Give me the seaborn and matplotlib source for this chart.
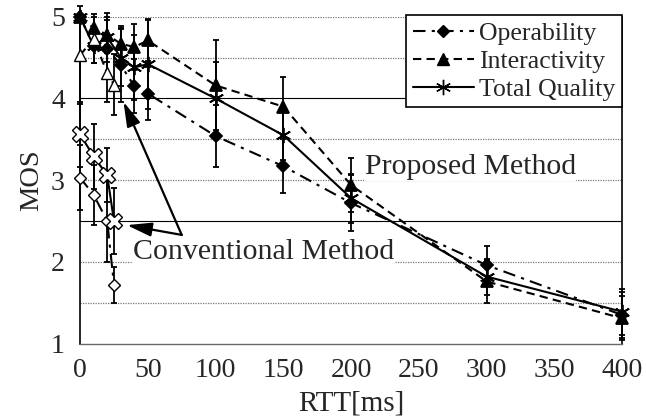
import numpy as np
import pandas as pd
import matplotlib
matplotlib.use("Agg")
import matplotlib.pyplot as plt
import seaborn as sns

# ---- data ----
rtt_proposed = [0, 10, 20, 30, 40, 50, 100, 150, 200, 300, 400]
op_proposed = [5.0, 4.64, 4.61, 4.41, 4.15, 4.06, 3.54, 3.17, 2.72, 1.96, 1.35]
op_proposed_err = [0.0, 0.2, 0.35, 0.45, 0.33, 0.32, 0.38, 0.33, 0.34, 0.24, 0.28]
int_proposed = [5.0, 4.86, 4.78, 4.67, 4.63, 4.71, 4.16, 3.90, 2.94, 1.76, 1.31]
int_proposed_err = [0.0, 0.14, 0.22, 0.22, 0.28, 0.25, 0.55, 0.36, 0.33, 0.26, 0.27]
tot_proposed = [5.0, 4.64, 4.75, 4.50, 4.38, 4.42, 4.00, 3.55, 2.78, 1.82, 1.39]
tot_proposed_err = [0.0, 0.2, 0.3, 0.35, 0.4, 0.55, 0.45, 0.3, 0.3, 0.22, 0.28]

rtt_conventional = [0, 10, 20, 25]
op_conventional = [3.03, 2.82, 2.50, 1.72]
op_conventional_err = [0.4, 0.37, 0.5, 0.22]
int_conventional = [4.53, 4.73, 4.31, 4.17]
int_conventional_err = [0.6, 0.3, 0.35, 0.37]
tot_conventional = [3.56, 3.29, 3.06, 2.50]
tot_conventional_err = [0.4, 0.4, 0.33, 0.4]

legend_labels = ["Operability", "Interactivity", "Total Quality"]
x_ticks = [0, 50, 100, 150, 200, 250, 300, 350, 400]
y_ticks = [1, 2, 3, 4, 5]

# ---- style ----
sns.set_style("white")
plt.rcParams['font.family'] = ['Liberation Serif', 'DejaVu Serif']

fig = plt.figure(figsize=(6.46, 4.19), dpi=100)
ax = fig.add_axes([0.124, 0.180, 0.839, 0.780])

# grid lines
for g in np.arange(1.5, 5.01, 0.5):
    if g in (4.0, 2.5):
        ax.axhline(g, color='black', lw=0.8, ls='-', zorder=0)
    else:
        ax.axhline(g, color='#777777', lw=0.9, ls=(0, (1, 1)), zorder=0)

asterisk = (6, 2, 0)
series = [
    (rtt_proposed, op_proposed, op_proposed_err, (0, (6, 3, 1.5, 3)), 'D', 6.5, 'black', legend_labels[0]),
    (rtt_proposed, int_proposed, int_proposed_err, (0, (4, 2.5)), '^', 8.5, 'black', legend_labels[1]),
    (rtt_proposed, tot_proposed, tot_proposed_err, '-', asterisk, 11, 'black', legend_labels[2]),
    (rtt_conventional, op_conventional, op_conventional_err, (0, (6, 3, 1.5, 3)), 'D', 6, 'white', None),
    (rtt_conventional, int_conventional, int_conventional_err, (0, (4, 2.5)), '^', 9, 'white', None),
    (rtt_conventional, tot_conventional, tot_conventional_err, '-', 'X', 11, 'white', None),
]

for x, y, e, ls, mk, ms, fc, lab in series:
    ax.errorbar(x, y, yerr=e, fmt='none', ecolor='black', elinewidth=1.3,
                capsize=2.5, capthick=1.3, zorder=2, clip_on=False)
    df = pd.DataFrame({"RTT": x, "MOS": y})
    sns.lineplot(data=df, x="RTT", y="MOS", ax=ax, color='black', lw=1.5,
                 linestyle=ls, marker=mk, markersize=ms, markerfacecolor=fc,
                 markeredgecolor='black', markeredgewidth=1.0 if fc == 'white' else 1.3,
                 label=lab, legend=False, zorder=3, clip_on=False)

ax.set_xlim(0, 400)
ax.set_ylim(1, 5)
ax.set_xticks(x_ticks)
ax.set_yticks(y_ticks)
ax.tick_params(axis='x', direction='inout', length=7, width=1, labelsize=20, pad=7)
ax.tick_params(axis='y', direction='out', length=5, width=1, labelsize=20, pad=6)
ax.set_xlabel("RTT[ms]", fontsize=21, labelpad=5)
ax.set_ylabel("MOS", fontsize=20.5, labelpad=5)

for s in ['left', 'right']:
    ax.spines[s].set_visible(True)
    ax.spines[s].set_color('black')
    ax.spines[s].set_linewidth(1.2)
ax.spines['top'].set_visible(False)
ax.spines['bottom'].set_color('#666666')
ax.spines['bottom'].set_linestyle((0, (1, 1)))
ax.spines['bottom'].set_linewidth(1.0)

# legend
handles = [
    plt.Line2D([], [], color='black', lw=1.5, ls=(0, (6, 3, 1.5, 3)), marker='D', ms=6.5),
    plt.Line2D([], [], color='black', lw=1.5, ls=(0, (4, 2.5)), marker='^', ms=8.5),
    plt.Line2D([], [], color='black', lw=1.5, ls='-', marker=asterisk, ms=11),
]
leg = ax.legend(handles, legend_labels, loc='upper right', bbox_to_anchor=(1.0, 1.005),
                fontsize=18.5, frameon=True, fancybox=False, edgecolor='black',
                framealpha=1, handlelength=2.4, handletextpad=0.2, labelspacing=0.2,
                borderpad=0.25, borderaxespad=0.0)
leg.get_frame().set_linewidth(1.2)

# annotations
ax.text(288, 3.16, "Proposed Method", fontsize=21.5, ha='center', va='center',
        bbox=dict(facecolor='white', edgecolor='none', pad=0.5), zorder=4)
ax.text(135.5, 2.12, "Conventional Method", fontsize=21.5, ha='center', va='center',
        bbox=dict(facecolor='white', edgecolor='none', pad=0.5), zorder=4)
arrow_kw = dict(arrowstyle='-|>,head_length=1.0,head_width=0.28', color='black',
                lw=1.6, mutation_scale=15, shrinkA=0, shrinkB=0)
ax.annotate("", xy=(32, 3.96), xytext=(75, 2.33), arrowprops=arrow_kw, zorder=5)
ax.annotate("", xy=(34.5, 2.45), xytext=(75, 2.33), arrowprops=arrow_kw, zorder=5)

fig.savefig("out.png", dpi=100)
